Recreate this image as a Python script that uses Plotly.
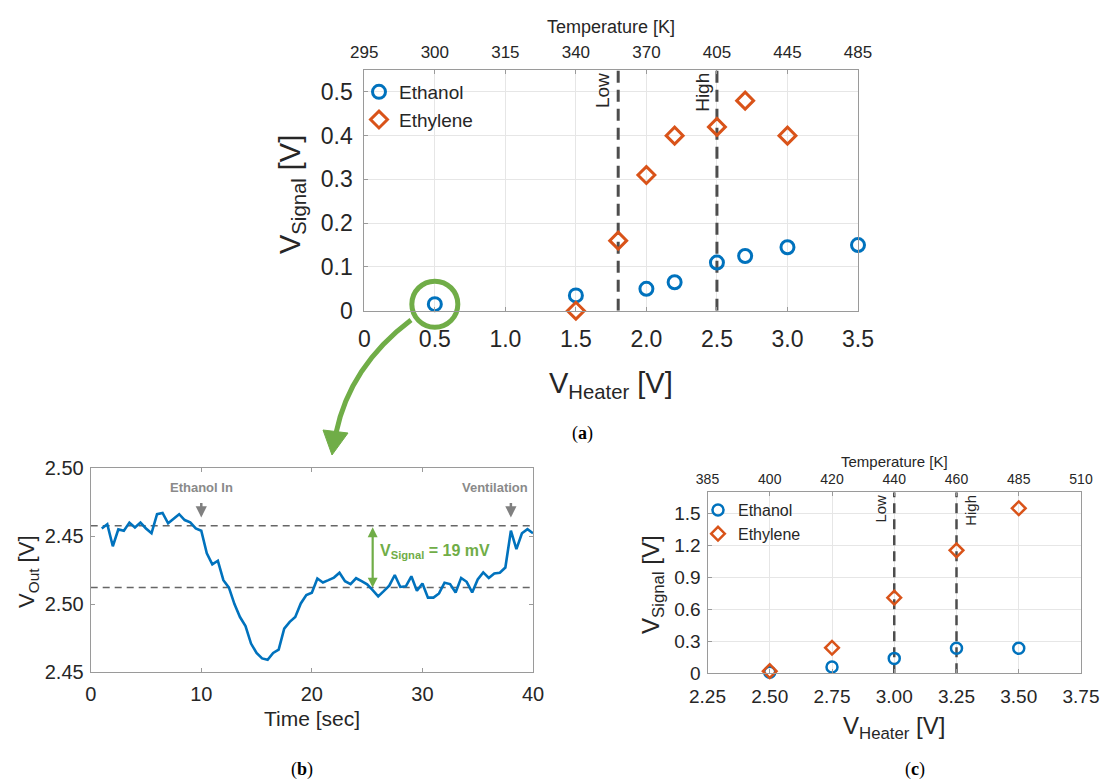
import plotly.graph_objects as go

W, H = 1102, 782

# ---------------- Panel (a) data ----------------
A_VH_TICKS = [0, 0.5, 1.0, 1.5, 2.0, 2.5, 3.0, 3.5]
A_VH_TEXT = ['0', '0.5', '1.0', '1.5', '2.0', '2.5', '3.0', '3.5']
A_TEMP_TEXT = ['295', '300', '315', '340', '370', '405', '445', '485']
A_Y_TICKS = [0, 0.1, 0.2, 0.3, 0.4, 0.5]
A_Y_TEXT = ['0', '0.1', '0.2', '0.3', '0.4', '0.5']
A_Y_RANGE = [0, 0.55]
A_ETH_X = [0.5, 1.5, 2.0, 2.2, 2.5, 2.7, 3.0, 3.5]
A_ETH_Y = [0.015, 0.035, 0.05, 0.065, 0.11, 0.125, 0.145, 0.15]
A_ETHY_X = [1.5, 1.8, 2.0, 2.2, 2.5, 2.7, 3.0]
A_ETHY_Y = [0.0, 0.16, 0.31, 0.40, 0.42, 0.48, 0.40]
A_LOW, A_HIGH = 1.8, 2.5

# ---------------- Panel (b) data ----------------
B_T = [1.0, 1.5, 2.0, 2.5, 3.0, 3.5, 4.0, 4.5, 5.0, 5.5, 6.0, 6.5, 7.0, 7.5, 8.0,
       8.5, 9.0, 9.5, 10.0, 10.5, 11.0, 11.5, 12.0, 12.5, 13.0, 13.5, 14.0, 14.5,
       15.0, 15.5, 16.0, 16.5, 17.0, 17.5, 18.0, 18.5, 19.0, 19.5, 20.0, 20.5,
       21.0, 21.5, 22.0, 22.5, 23.0, 23.5, 24.0, 24.5, 25.0, 25.5, 26.0, 26.5,
       27.0, 27.5, 28.0, 28.5, 29.0, 29.5, 30.0, 30.5, 31.0, 31.5, 32.0, 32.5,
       33.0, 33.5, 34.0, 34.5, 35.0, 35.5, 36.0, 36.5, 37.0, 37.5, 38.0, 38.5,
       39.0, 39.5, 40.0]
B_V = [2.4814, 2.4827, 2.4759, 2.4811, 2.4807, 2.4832, 2.4817, 2.4832, 2.4814,
       2.4799, 2.4858, 2.4862, 2.4830, 2.4844, 2.4858, 2.4840, 2.4833, 2.4814,
       2.4807, 2.4737, 2.4703, 2.4714, 2.4654, 2.4631, 2.4580, 2.4540, 2.4512,
       2.4458, 2.4429, 2.4412, 2.4408, 2.4429, 2.4439, 2.4504, 2.4525, 2.4540,
       2.4582, 2.4608, 2.4615, 2.4659, 2.4647, 2.4654, 2.4662, 2.4677, 2.4651,
       2.4642, 2.4660, 2.4651, 2.4641, 2.4623, 2.4604, 2.4620, 2.4637, 2.4670,
       2.4633, 2.4635, 2.4666, 2.4621, 2.4644, 2.4600, 2.4600, 2.4613, 2.4646,
       2.4642, 2.4616, 2.4661, 2.4649, 2.4616, 2.4656, 2.4678, 2.4661, 2.4675,
       2.4677, 2.4693, 2.4807, 2.4750, 2.4799, 2.4812, 2.4799]
B_X_TICKS = [0, 10, 20, 30, 40]
B_X_RANGE = [0, 40]
B_Y_TICKS = [2.437, 2.458, 2.479, 2.500]
B_Y_TEXT = ['2.45', '2.50', '2.45', '2.50']
B_BASE_HIGH, B_BASE_LOW = 2.4822, 2.4631
B_EVENT_T = [10, 38]
B_EVENT_TEXT = ['Ethanol In', 'Ventilation']
B_SIGNAL_T = 25.5

# ---------------- Panel (c) data ----------------
C_VH_TICKS = [2.25, 2.5, 2.75, 3.0, 3.25, 3.5, 3.75]
C_VH_TEXT = ['2.25', '2.50', '2.75', '3.00', '3.25', '3.50', '3.75']
C_TEMP_TEXT = ['385', '400', '420', '440', '460', '485', '510']
C_Y_TICKS = [0, 0.3, 0.6, 0.9, 1.2, 1.5]
C_Y_TEXT = ['0', '0.3', '0.6', '0.9', '1.2', '1.5']
C_Y_RANGE = [0, 1.7]
C_X = [2.5, 2.75, 3.0, 3.25, 3.5]
C_ETH_Y = [0.01, 0.06, 0.14, 0.235, 0.235]
C_ETHY_Y = [0.02, 0.24, 0.71, 1.155, 1.55]
C_LOW, C_HIGH = 3.0, 3.25

BLUE = '#0072BD'
ORANGE = '#D95319'
GREEN = '#70AD47'
TXT = '#262626'
FONT = 'Liberation Sans, Arial, sans-serif'
GRID = '#e6e6e6'
BOX = '#9a9a9a'
DASHC = '#4d4d4d'


def px_x(p):
    return p / W


def px_y(p):
    return 1 - p / H


def dom_x(a, b):
    return [a / W, b / W]


def dom_y(top, bottom):
    return [1 - bottom / H, 1 - top / H]


fig = go.Figure()

# ---- panel a traces ----
for xv in (A_LOW, A_HIGH):
    fig.add_trace(go.Scatter(x=[xv, xv], y=A_Y_RANGE, mode='lines', showlegend=False,
                             hoverinfo='skip', xaxis='x', yaxis='y',
                             line=dict(color=DASHC, width=3, dash='12px,7px')))
fig.add_trace(go.Scatter(x=A_ETH_X, y=A_ETH_Y, mode='markers', name='Ethanol',
                         marker=dict(symbol='circle-open', size=13, color=BLUE,
                                     line=dict(width=3, color=BLUE)),
                         cliponaxis=False, xaxis='x', yaxis='y', legend='legend'))
fig.add_trace(go.Scatter(x=A_ETHY_X, y=A_ETHY_Y, mode='markers', name='Ethylene',
                         marker=dict(symbol='diamond-open', size=13, color=ORANGE,
                                     line=dict(width=3, color=ORANGE)),
                         cliponaxis=False, xaxis='x', yaxis='y', legend='legend'))
# green highlight ring around the first ethanol point
fig.add_trace(go.Scatter(x=A_ETH_X[:1], y=A_ETH_Y[:1], mode='markers', showlegend=False,
                         hoverinfo='skip',
                         marker=dict(symbol='circle-open', size=46, color=GREEN,
                                     line=dict(width=5, color=GREEN)),
                         cliponaxis=False, xaxis='x', yaxis='y'))
fig.add_trace(go.Scatter(x=A_VH_TICKS, y=[None] * len(A_VH_TICKS), mode='markers',
                         showlegend=False, hoverinfo='skip', xaxis='x2', yaxis='y'))

# ---- panel b traces ----
for yv in (B_BASE_HIGH, B_BASE_LOW):
    fig.add_trace(go.Scatter(x=B_X_RANGE, y=[yv, yv], mode='lines', showlegend=False,
                             hoverinfo='skip', xaxis='x3', yaxis='y3',
                             line=dict(color='#666666', width=1.5, dash='7px,5px')))
fig.add_trace(go.Scatter(x=B_T, y=B_V, mode='lines', showlegend=False,
                         line=dict(color=BLUE, width=2.6), xaxis='x3', yaxis='y3'))

# ---- panel c traces ----
for xv in (C_LOW, C_HIGH):
    fig.add_trace(go.Scatter(x=[xv, xv], y=C_Y_RANGE, mode='lines', showlegend=False,
                             hoverinfo='skip', xaxis='x4', yaxis='y4',
                             line=dict(color=DASHC, width=2.5, dash='10px,6px')))
fig.add_trace(go.Scatter(x=C_X, y=C_ETH_Y, mode='markers', name='Ethanol',
                         marker=dict(symbol='circle-open', size=11, color=BLUE,
                                     line=dict(width=2.5, color=BLUE)),
                         cliponaxis=False, xaxis='x4', yaxis='y4', legend='legend2'))
fig.add_trace(go.Scatter(x=C_X, y=C_ETHY_Y, mode='markers', name='Ethylene',
                         marker=dict(symbol='diamond-open', size=10.5, color=ORANGE,
                                     line=dict(width=2.5, color=ORANGE)),
                         cliponaxis=False, xaxis='x4', yaxis='y4', legend='legend2'))
fig.add_trace(go.Scatter(x=C_VH_TICKS, y=[None] * len(C_VH_TICKS), mode='markers',
                         showlegend=False, hoverinfo='skip', xaxis='x5', yaxis='y4'))

common = dict(showline=True, linecolor=BOX, linewidth=1, ticks='inside', ticklen=4,
              tickcolor=BOX, zeroline=False, automargin=False)

# domains
A_DX = dom_x(364.3, 858.0)
A_DY = dom_y(70.0, 310.7)
B_DX = dom_x(90.7, 533.0)
B_DY = dom_y(468.3, 672.0)
C_DX = dom_x(707.5, 1081.0)
C_DY = dom_y(492.3, 673.3)

fig.update_layout(
    width=W, height=H, autosize=False,
    margin=dict(l=0, r=0, t=0, b=0),
    paper_bgcolor='white', plot_bgcolor='white',
    template='none',
    font=dict(family=FONT, color=TXT),
    xaxis=dict(domain=A_DX, anchor='y', range=[0, 3.5], tickvals=A_VH_TICKS,
               ticktext=A_VH_TEXT, tickfont=dict(size=23, color=TXT),
               showgrid=True, gridcolor=GRID, mirror=True, ticklabelstandoff=8, **common),
    xaxis2=dict(overlaying='x', anchor='y', side='top', range=[0, 3.5],
                tickvals=A_VH_TICKS, ticktext=A_TEMP_TEXT,
                tickfont=dict(size=17, color=TXT), showgrid=False, ticklabelstandoff=4,
                **common),
    yaxis=dict(domain=A_DY, anchor='x', range=A_Y_RANGE, tickvals=A_Y_TICKS,
               ticktext=A_Y_TEXT, tickfont=dict(size=23, color=TXT),
               showgrid=True, gridcolor=GRID, mirror=True, ticklabelstandoff=6, **common),
    xaxis3=dict(domain=B_DX, anchor='y3', range=B_X_RANGE, tickvals=B_X_TICKS,
                tickfont=dict(size=20, color=TXT), showgrid=False, mirror='ticks',
                ticklabelstandoff=4, **common),
    yaxis3=dict(domain=B_DY, anchor='x3', range=[2.437, 2.500], tickvals=B_Y_TICKS,
                ticktext=B_Y_TEXT, tickfont=dict(size=20, color=TXT), showgrid=False,
                mirror='ticks', ticklabelstandoff=2, **common),
    xaxis4=dict(domain=C_DX, anchor='y4', range=[2.25, 3.75], tickvals=C_VH_TICKS,
                ticktext=C_VH_TEXT, tickfont=dict(size=19, color=TXT),
                showgrid=True, gridcolor=GRID, mirror=True, ticklabelstandoff=6, **common),
    xaxis5=dict(overlaying='x4', anchor='y4', side='top', range=[2.25, 3.75],
                tickvals=C_VH_TICKS, ticktext=C_TEMP_TEXT,
                tickfont=dict(size=14, color=TXT), showgrid=False, ticklabelstandoff=2,
                **common),
    yaxis4=dict(domain=C_DY, anchor='x4', range=C_Y_RANGE, tickvals=C_Y_TICKS,
                ticktext=C_Y_TEXT, tickfont=dict(size=19, color=TXT),
                showgrid=True, gridcolor=GRID, mirror=True, ticklabelstandoff=2, **common),
    legend=dict(x=px_x(359), y=px_y(73), xanchor='left', yanchor='top',
                bgcolor='rgba(0,0,0,0)', font=dict(size=19, color=TXT),
                itemwidth=30, tracegroupgap=0, traceorder='normal'),
    legend2=dict(x=px_x(698), y=px_y(493), xanchor='left', yanchor='top',
                 bgcolor='rgba(0,0,0,0)', font=dict(size=16, color=TXT),
                 itemwidth=30, tracegroupgap=0, traceorder='normal'),
    showlegend=True,
)

shapes = []
# green curved arrow (decorative connector, paper coords)
sx, sy = px_x(411), px_y(320)
cx, cy = px_x(350), px_y(366)
ex, ey = px_x(336), px_y(433)
shapes.append(dict(type='path', xref='paper', yref='paper',
                   path=f'M {sx},{sy} Q {cx},{cy} {ex},{ey}',
                   line=dict(color=GREEN, width=5)))
shapes.append(dict(type='path', xref='paper', yref='paper',
                   path=(f'M {px_x(323)},{px_y(430)} L {px_x(348)},{px_y(433)} '
                         f'L {px_x(332)},{px_y(455)} Z'),
                   fillcolor=GREEN, line=dict(color=GREEN, width=1)))
fig.update_layout(shapes=shapes)

ann = []
# Low / High labels panel a
ann.append(dict(x=A_LOW, y=0.548, xref='x', yref='y', text='Low', textangle=-90,
                xanchor='right', yanchor='top', xshift=-3, showarrow=False,
                font=dict(size=19, color=TXT)))
ann.append(dict(x=A_HIGH, y=0.548, xref='x', yref='y', text='High', textangle=-90,
                xanchor='right', yanchor='top', xshift=-2, showarrow=False,
                font=dict(size=19, color=TXT)))
# Low / High labels panel c
ann.append(dict(x=C_LOW, y=1.695, xref='x4', yref='y4', text='Low', textangle=-90,
                xanchor='right', yanchor='top', xshift=-3, showarrow=False,
                font=dict(size=15, color=TXT)))
ann.append(dict(x=C_HIGH, y=1.69, xref='x4', yref='y4', text='High', textangle=-90,
                xanchor='left', yanchor='top', xshift=4, showarrow=False,
                font=dict(size=15, color=TXT)))


def ptext(x, y, text, size, angle=0, color=TXT, family=None):
    f = dict(size=size, color=color)
    if family:
        f['family'] = family
    return dict(x=px_x(x), y=px_y(y), xref='paper', yref='paper', text=text,
                textangle=angle, xanchor='center', yanchor='middle',
                showarrow=False, font=f)


# axis titles (as text)
ann += [
    ptext(611, 27, 'Temperature [K]', 18),
    ptext(611, 385, 'V<sub>Heater</sub> [V]', 29),
    ptext(292, 195, 'V<sub>Signal</sub> [V]', 29, angle=-90),
    ptext(312, 718, 'Time [sec]', 21),
    ptext(28, 572, 'V<sub>Out</sub> [V]', 22, angle=-90),
    ptext(894, 461, 'Temperature [K]', 15),
    ptext(894, 727, 'V<sub>Heater</sub> [V]', 24),
    ptext(652, 585, 'V<sub>Signal</sub> [V]', 24, angle=-90),
]

# panel b event arrows and labels
for t, label in zip(B_EVENT_T, B_EVENT_TEXT):
    ann.append(dict(x=t, y=2.4848, xref='x3', yref='y3', ax=t, ay=2.4897,
                    axref='x3', ayref='y3', showarrow=True, arrowhead=2, arrowsize=0.9,
                    arrowwidth=2.5, arrowcolor='#808080', text=''))
ann.append(dict(x=B_EVENT_T[0], y=2.4942, xref='x3', yref='y3', text='<b>Ethanol In</b>',
                xanchor='center', yanchor='middle',
                showarrow=False, font=dict(size=13, color='#8a8a8a')))
ann.append(dict(x=40, y=2.4942, xref='x3', yref='y3', text='<b>Ventilation</b>',
                xanchor='right', yanchor='middle', xshift=-3, showarrow=False,
                font=dict(size=13, color='#8a8a8a')))
# V_signal double arrow
ann.append(dict(x=B_SIGNAL_T, y=B_BASE_LOW, xref='x3', yref='y3', ax=B_SIGNAL_T,
                ay=B_BASE_HIGH, axref='x3', ayref='y3', showarrow=True, arrowhead=2,
                startarrowhead=2, arrowside='end+start', arrowsize=0.9, startarrowsize=0.9,
                arrowwidth=2.2, arrowcolor=GREEN, text=''))
ann.append(dict(x=26.0, y=2.4742, xref='x3', yref='y3', xanchor='left', yanchor='middle',
                text='<b>V<sub>Signal</sub> = 19 mV</b>', showarrow=False,
                font=dict(size=16, color=GREEN)))

# panel labels
SERIF = 'Liberation Serif, Times New Roman, serif'
ann += [
    ptext(582, 433, '(<b>a</b>)', 18, color='black', family=SERIF),
    ptext(302, 769, '(<b>b</b>)', 18, color='black', family=SERIF),
    ptext(915, 769, '(<b>c</b>)', 18, color='black', family=SERIF),
]
fig.update_layout(annotations=ann)

fig.write_html('out.html', config={'displayModeBar': False},
               post_script="document.body.style.margin='0';"
                           "document.body.style.overflow='hidden';")
